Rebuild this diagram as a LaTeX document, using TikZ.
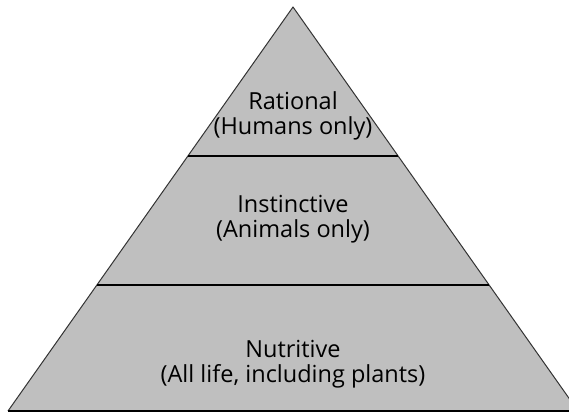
\documentclass[tikz,border=0pt]{standalone}
\usepackage{fontspec}
\setmainfont{Open Sans}
\usepackage{tikz}
\usetikzlibrary{calc}

\tikzset{
  level/.style={align=center, font=\fontsize{23.5}{25}\selectfont},
  divider/.style={line width=1.2pt, color=black}
}

\begin{document}
\begin{tikzpicture}[x=1pt,y=1pt]
        \useasboundingbox (0,0) rectangle (569,414);
        \clip (0,0) rectangle (569,414);
        \coordinate (apex) at (293,407);
        \coordinate (left) at (8,3);
        \coordinate (right) at (578,3);
        \fill[black!25] (apex) -- (left) -- (right) -- cycle;
        \draw[line width=1pt, color=black!80, line join=round] (left) -- (apex) -- (right);
        \draw[line width=1.4pt] (left) -- (right);
        % dividers
        \coordinate (d1l) at ($(apex)!149/404!(left)$);
        \coordinate (d1r) at ($(apex)!149/404!(right)$);
        \coordinate (d2l) at ($(apex)!278/404!(left)$);
        \coordinate (d2r) at ($(apex)!278/404!(right)$);
        \draw[divider] (d1l) -- (d1r);
        \draw[divider] (d2l) -- (d2r);
        \node[level] (rational) at (293,298.5) {Rational\\(Humans only)};
        \node[level] (instinctive) at (293,194.5) {Instinctive\\(Animals only)};
        \node[level] (nutritive) at (293,49.5) {Nutritive\\(All life, including plants)};
    \end{tikzpicture}
\end{document}
